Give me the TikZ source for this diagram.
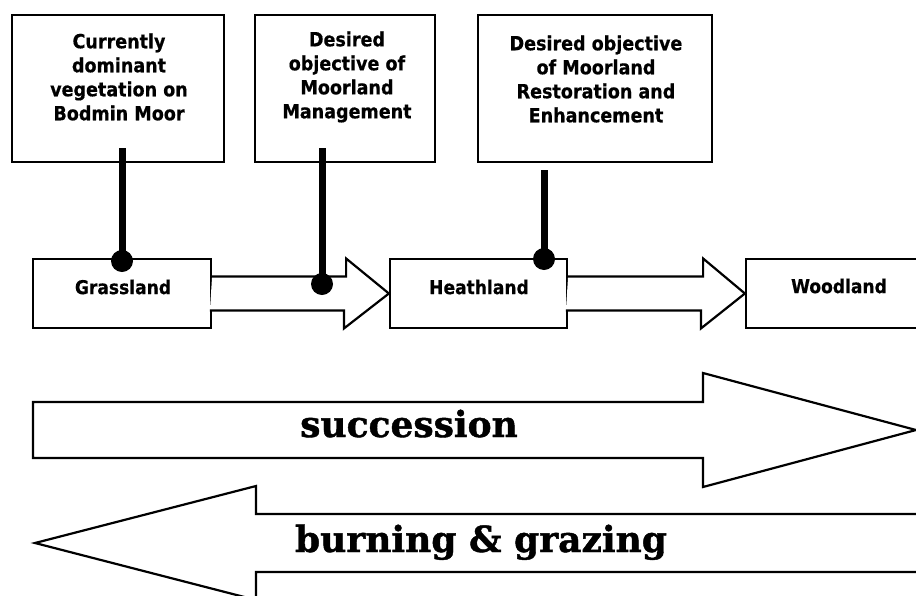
\documentclass[tikz,border=0pt]{standalone}
\usepackage{fontspec}
\usetikzlibrary{calc}
\newfontfamily\labelfont[FakeBold=0.5]{DejaVu Sans Condensed Bold}
\newfontfamily\bannerfont[FakeBold=1.2]{DejaVu Serif Bold}
\begin{document}
\begin{tikzpicture}[x=1pt,y=-1pt,
  box/.style={draw, line width=2.2pt, fill=white, inner sep=0pt},
  boxtext/.style={align=center, font=\labelfont\fontsize{19.5}{24}\selectfont, inner sep=0pt},
  stagetext/.style={font=\labelfont\fontsize{19}{22}\selectfont, inner sep=0pt},
  outline/.style={draw, line width=2.2pt, line join=miter, fill=white},
  stick/.style={line width=7pt},
  pin/.style={fill=black},
  banner/.style={font=\bannerfont\fontsize{36}{40}\selectfont, inner sep=0pt, anchor=base}]
\useasboundingbox (0,0) rectangle (916,595);
\fill[white] (0,0) rectangle (916,595);
\begin{scope}
\clip (0,0) rectangle (916,595);

% objective boxes
\node[box, minimum width=212pt, minimum height=147pt] (b1) at (118,88.5) {};
\node[boxtext] (t1) at (119,77) {Currently\\dominant\\vegetation on\\Bodmin Moor};
\node[box, minimum width=180pt, minimum height=147pt] (b2) at (345,88.5) {};
\node[boxtext] (t2) at (347,77) {Desired\\objective of\\Moorland\\Management};
\node[box, minimum width=234pt, minimum height=147pt] (b3) at (595,88.5) {};
\node[boxtext] (t3) at (596,79) {Desired objective\\of Moorland\\Restoration and\\Enhancement};

% vegetation stages
\node[box, minimum width=178pt, minimum height=69pt] (g) at (122,293.5) {};
\node[stagetext] (gt) at (123,287) {Grassland};
\node[box, minimum width=177pt, minimum height=69pt] (h) at (478.5,293.5) {};
\node[stagetext] (ht) at (479,287) {Heathland};
\node[box, minimum width=190pt, minimum height=69pt] (w) at (841,293.5) {};
\node[stagetext] (wt) at (839,286) {Woodland};

% block arrows between stages
\draw[outline] (g.east) ++(0,-17) -- ++(134,0) -- ++(0,-18) -- (h.west)
  -- ++(-45,35) -- ++(0,-18) -- ++(-134,0);
\draw[outline] (h.east) ++(0,-17) -- ++(135,0) -- ++(0,-18) -- (w.west)
  -- ++(-44,35) -- ++(0,-18) -- ++(-135,0);

% pins from the objective boxes
\coordinate (d1) at (122,261);
\coordinate (d2) at (322,284);
\coordinate (d3) at (544,259);
\draw[stick] ([yshift=15pt]b1.south -| d1) -- (d1);
\fill[pin] (d1) circle[radius=11];
\draw[stick] ([yshift=15pt]b2.south -| d2) -- (d2);
\fill[pin] (d2) circle[radius=11];
\draw[stick] ([yshift=-7pt]b3.south -| d3) -- (d3);
\fill[pin] (d3) circle[radius=11];

% succession
\draw[outline] (33,402) -- (703,402) -- (703,373) -- (916,430) -- (703,487)
  -- (703,458) -- (33,458) -- cycle;
\node[banner] (s) at (409,437) {succession};

% burning & grazing
\draw[outline] (35,543) -- (256,486) -- (256,514) -- (940,514) -- (940,572)
  -- (256,572) -- (256,600) -- cycle;
\node[banner] (bg) at (481,552) {burning \& grazing};
\end{scope}
\end{tikzpicture}
\end{document}
